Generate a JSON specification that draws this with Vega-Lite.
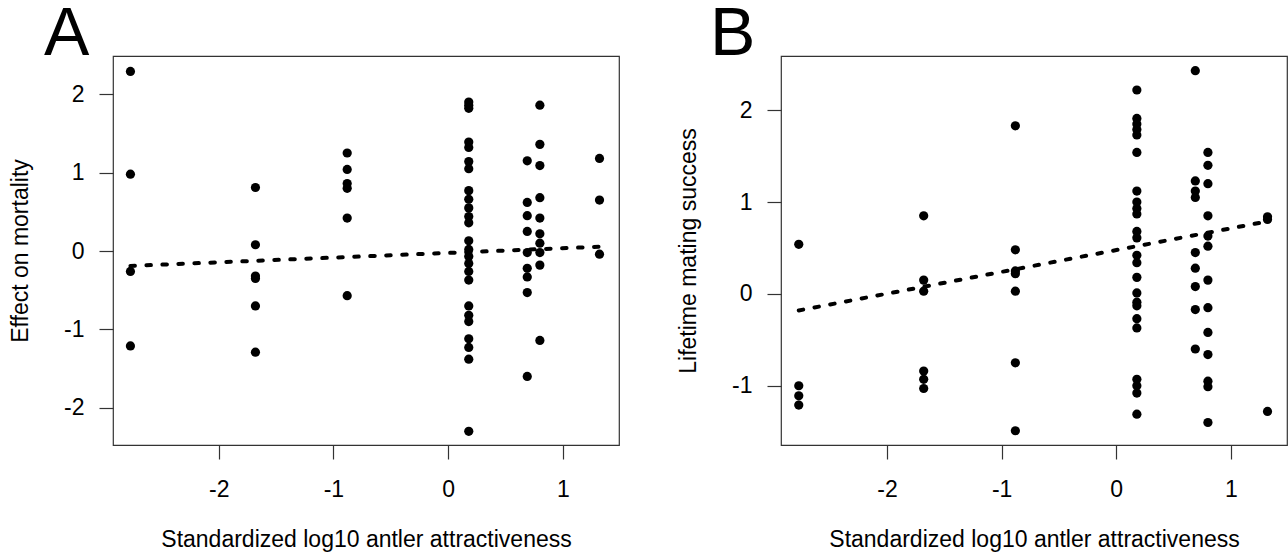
{
  "$schema": "https://vega.github.io/schema/vega-lite/v6.json",
  "background": "white",
  "autosize": {"type": "pad"},
  "padding": {"left": 8, "top": 0, "right": 0, "bottom": 0},
  "spacing": 162,
  "bounds": "flush",
  "config": {
    "font": "Liberation Sans",
    "view": {"stroke": "#333333", "strokeWidth": 1.2},
    "axis": {
      "grid": false,
      "domain": false,
      "tickColor": "#333333",
      "tickSize": 14,
      "tickWidth": 1.2,
      "labelFont": "Liberation Sans",
      "labelFontSize": 23,
      "labelColor": "black",
      "titleFont": "Liberation Sans",
      "titleFontSize": 23,
      "titleFontWeight": "normal",
      "titleColor": "black"
    },
    "axisX": {"labelPadding": 19, "titlePadding": 27},
    "axisY": {"labelPadding": 15, "titlePadding": 31, "labelAngle": 0},
    "title": {"fontSize": 68, "fontWeight": "normal", "color": "black", "font": "Liberation Sans"}
  },
  "datasets": {
    "mortality": [
      {"attractiveness": -2.77, "effect": 2.29}, {"attractiveness": -2.77, "effect": 0.98}, {"attractiveness": -2.77, "effect": -0.26}, {"attractiveness": -2.77, "effect": -1.21},
      {"attractiveness": -1.68, "effect": 0.81}, {"attractiveness": -1.68, "effect": 0.08}, {"attractiveness": -1.68, "effect": -0.32}, {"attractiveness": -1.68, "effect": -0.35}, {"attractiveness": -1.68, "effect": -0.70}, {"attractiveness": -1.68, "effect": -1.29},
      {"attractiveness": -0.88, "effect": 1.25}, {"attractiveness": -0.88, "effect": 1.04}, {"attractiveness": -0.88, "effect": 0.86}, {"attractiveness": -0.88, "effect": 0.80}, {"attractiveness": -0.88, "effect": 0.42}, {"attractiveness": -0.88, "effect": -0.57},
      {"attractiveness": 0.18, "effect": 1.90}, {"attractiveness": 0.18, "effect": 1.86}, {"attractiveness": 0.18, "effect": 1.82}, {"attractiveness": 0.18, "effect": 1.39}, {"attractiveness": 0.18, "effect": 1.32},
      {"attractiveness": 0.18, "effect": 1.14}, {"attractiveness": 0.18, "effect": 1.05}, {"attractiveness": 0.18, "effect": 0.77}, {"attractiveness": 0.18, "effect": 0.66}, {"attractiveness": 0.18, "effect": 0.55},
      {"attractiveness": 0.18, "effect": 0.44}, {"attractiveness": 0.18, "effect": 0.36}, {"attractiveness": 0.18, "effect": 0.13}, {"attractiveness": 0.18, "effect": 0.02}, {"attractiveness": 0.18, "effect": -0.07},
      {"attractiveness": 0.18, "effect": -0.16}, {"attractiveness": 0.18, "effect": -0.26}, {"attractiveness": 0.18, "effect": -0.37}, {"attractiveness": 0.18, "effect": -0.70}, {"attractiveness": 0.18, "effect": -0.82},
      {"attractiveness": 0.18, "effect": -0.90}, {"attractiveness": 0.18, "effect": -1.12}, {"attractiveness": 0.18, "effect": -1.23}, {"attractiveness": 0.18, "effect": -1.38}, {"attractiveness": 0.18, "effect": -2.30},
      {"attractiveness": 0.69, "effect": 1.15}, {"attractiveness": 0.69, "effect": 0.62}, {"attractiveness": 0.69, "effect": 0.45}, {"attractiveness": 0.69, "effect": 0.25}, {"attractiveness": 0.69, "effect": -0.02},
      {"attractiveness": 0.69, "effect": -0.22}, {"attractiveness": 0.69, "effect": -0.33}, {"attractiveness": 0.69, "effect": -0.53}, {"attractiveness": 0.69, "effect": -1.60},
      {"attractiveness": 0.80, "effect": 1.86}, {"attractiveness": 0.80, "effect": 1.36}, {"attractiveness": 0.80, "effect": 1.09}, {"attractiveness": 0.80, "effect": 0.68}, {"attractiveness": 0.80, "effect": 0.42},
      {"attractiveness": 0.80, "effect": 0.22}, {"attractiveness": 0.80, "effect": 0.10}, {"attractiveness": 0.80, "effect": -0.02}, {"attractiveness": 0.80, "effect": -0.18}, {"attractiveness": 0.80, "effect": -1.14},
      {"attractiveness": 1.32, "effect": 1.18}, {"attractiveness": 1.32, "effect": 0.65}, {"attractiveness": 1.32, "effect": -0.04}
    ],
    "mortalityFit": [
      {"attractiveness": -2.77, "effect": -0.19},
      {"attractiveness": 1.32, "effect": 0.055}
    ],
    "mating": [
      {"attractiveness": -2.77, "success": 0.54}, {"attractiveness": -2.77, "success": -1.00}, {"attractiveness": -2.77, "success": -1.11}, {"attractiveness": -2.77, "success": -1.21},
      {"attractiveness": -1.68, "success": 0.85}, {"attractiveness": -1.68, "success": 0.15}, {"attractiveness": -1.68, "success": 0.03}, {"attractiveness": -1.68, "success": -0.84}, {"attractiveness": -1.68, "success": -0.93}, {"attractiveness": -1.68, "success": -1.03},
      {"attractiveness": -0.88, "success": 1.83}, {"attractiveness": -0.88, "success": 0.48}, {"attractiveness": -0.88, "success": 0.25}, {"attractiveness": -0.88, "success": 0.22}, {"attractiveness": -0.88, "success": 0.03}, {"attractiveness": -0.88, "success": -0.75}, {"attractiveness": -0.88, "success": -1.49},
      {"attractiveness": 0.18, "success": 2.22}, {"attractiveness": 0.18, "success": 1.91}, {"attractiveness": 0.18, "success": 1.85}, {"attractiveness": 0.18, "success": 1.79}, {"attractiveness": 0.18, "success": 1.73},
      {"attractiveness": 0.18, "success": 1.54}, {"attractiveness": 0.18, "success": 1.12}, {"attractiveness": 0.18, "success": 1.00}, {"attractiveness": 0.18, "success": 0.93}, {"attractiveness": 0.18, "success": 0.87},
      {"attractiveness": 0.18, "success": 0.68}, {"attractiveness": 0.18, "success": 0.61}, {"attractiveness": 0.18, "success": 0.42}, {"attractiveness": 0.18, "success": 0.34}, {"attractiveness": 0.18, "success": 0.18},
      {"attractiveness": 0.18, "success": 0.01}, {"attractiveness": 0.18, "success": -0.09}, {"attractiveness": 0.18, "success": -0.13}, {"attractiveness": 0.18, "success": -0.27}, {"attractiveness": 0.18, "success": -0.37},
      {"attractiveness": 0.18, "success": -0.93}, {"attractiveness": 0.18, "success": -1.00}, {"attractiveness": 0.18, "success": -1.08}, {"attractiveness": 0.18, "success": -1.31},
      {"attractiveness": 0.69, "success": 2.43}, {"attractiveness": 0.69, "success": 1.23}, {"attractiveness": 0.69, "success": 1.12}, {"attractiveness": 0.69, "success": 1.05}, {"attractiveness": 0.69, "success": 0.45},
      {"attractiveness": 0.69, "success": 0.28}, {"attractiveness": 0.69, "success": 0.08}, {"attractiveness": 0.69, "success": -0.17}, {"attractiveness": 0.69, "success": -0.60},
      {"attractiveness": 0.80, "success": 1.54}, {"attractiveness": 0.80, "success": 1.40}, {"attractiveness": 0.80, "success": 1.20}, {"attractiveness": 0.80, "success": 0.85}, {"attractiveness": 0.80, "success": 0.63},
      {"attractiveness": 0.80, "success": 0.52}, {"attractiveness": 0.80, "success": 0.15}, {"attractiveness": 0.80, "success": -0.15}, {"attractiveness": 0.80, "success": -0.42}, {"attractiveness": 0.80, "success": -0.66},
      {"attractiveness": 0.80, "success": -0.95}, {"attractiveness": 0.80, "success": -1.01}, {"attractiveness": 0.80, "success": -1.40},
      {"attractiveness": 1.32, "success": 0.84}, {"attractiveness": 1.32, "success": 0.81}, {"attractiveness": 1.32, "success": -1.28}
    ],
    "matingFit": [
      {"attractiveness": -2.77, "success": -0.18},
      {"attractiveness": 1.32, "success": 0.79}
    ]
  },
  "hconcat": [
    {
      "width": 506,
      "height": 389,
      "title": {"text": "A", "anchor": "start", "frame": "group", "baseline": "alphabetic", "offset": 0, "dx": -69, "dy": 66.7},
      "layer": [
        {
          "data": {"name": "mortality"},
          "mark": {"type": "circle", "size": 85, "color": "black", "opacity": 1},
          "encoding": {
            "x": {
              "field": "attractiveness", "type": "quantitative",
              "scale": {"domain": [-2.922, 1.49], "nice": false, "zero": false},
              "axis": {"values": [-2, -1, 0, 1], "labelExpr": "'' + datum.value", "title": "Standardized log10 antler attractiveness"}
            },
            "y": {
              "field": "effect", "type": "quantitative",
              "scale": {"domain": [-2.474, 2.487], "nice": false, "zero": false},
              "axis": {"values": [-2, -1, 0, 1, 2], "labelExpr": "'' + datum.value", "title": "Effect on mortality"}
            }
          }
        },
        {
          "data": {"name": "mortalityFit"},
          "mark": {"type": "line", "color": "black", "strokeWidth": 4, "strokeDash": [4.5, 11.5], "strokeCap": "round"},
          "encoding": {
            "x": {"field": "attractiveness", "type": "quantitative"},
            "y": {"field": "effect", "type": "quantitative"}
          }
        }
      ]
    },
    {
      "width": 506,
      "height": 389,
      "title": {"text": "B", "anchor": "start", "frame": "group", "baseline": "alphabetic", "offset": 0, "dx": -71, "dy": 66.7},
      "layer": [
        {
          "data": {"name": "mating"},
          "mark": {"type": "circle", "size": 85, "color": "black", "opacity": 1},
          "encoding": {
            "x": {
              "field": "attractiveness", "type": "quantitative",
              "scale": {"domain": [-2.925, 1.49], "nice": false, "zero": false},
              "axis": {"values": [-2, -1, 0, 1], "labelExpr": "'' + datum.value", "title": "Standardized log10 antler attractiveness"}
            },
            "y": {
              "field": "success", "type": "quantitative",
              "scale": {"domain": [-1.645, 2.59], "nice": false, "zero": false},
              "axis": {"values": [-1, 0, 1, 2], "labelExpr": "'' + datum.value", "title": "Lifetime mating success"}
            }
          }
        },
        {
          "data": {"name": "matingFit"},
          "mark": {"type": "line", "color": "black", "strokeWidth": 4, "strokeDash": [4.5, 11.5], "strokeCap": "round"},
          "encoding": {
            "x": {"field": "attractiveness", "type": "quantitative"},
            "y": {"field": "success", "type": "quantitative"}
          }
        }
      ]
    }
  ]
}
